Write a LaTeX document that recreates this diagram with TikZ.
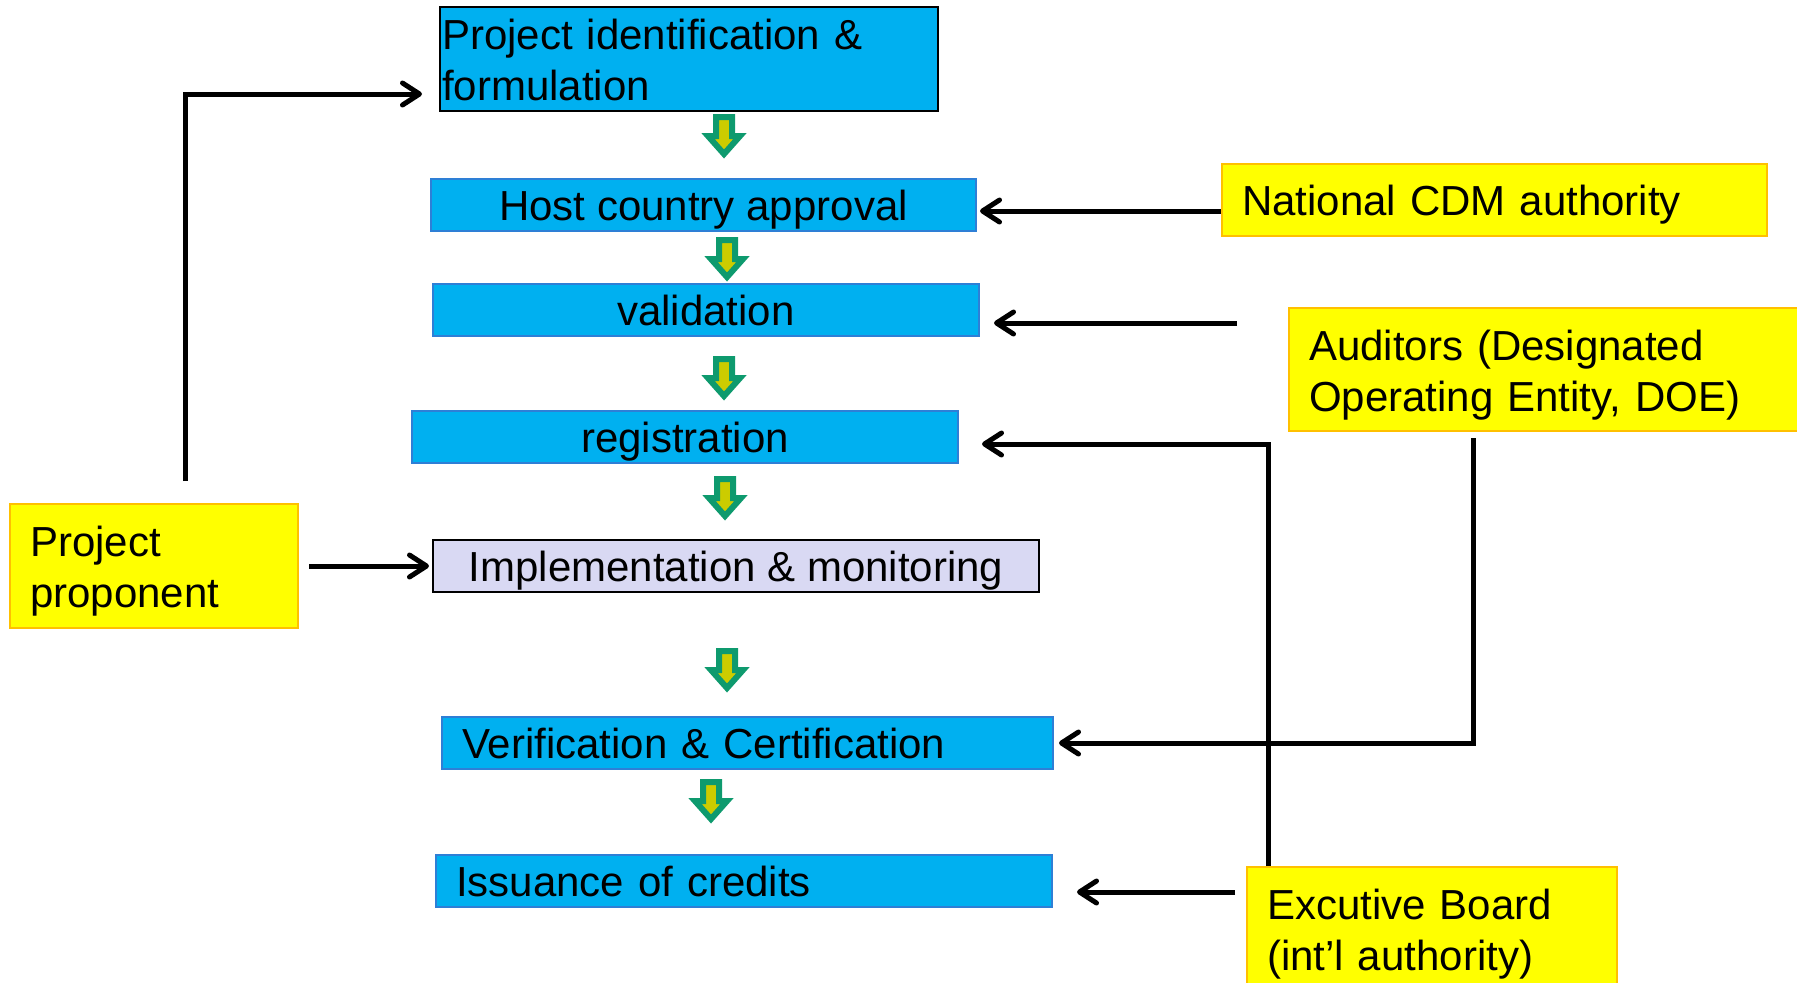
\documentclass[tikz,border=0pt]{standalone}
\usepackage{fontspec}
\setmainfont{Liberation Sans}
\usetikzlibrary{arrows.meta}
\definecolor{stageblue}{HTML}{00B0F0}
\definecolor{stageedge}{HTML}{2E7FD6}
\definecolor{monitorfill}{HTML}{D9D9F3}
\definecolor{actorfill}{HTML}{FFFF00}
\definecolor{actoredge}{HTML}{FFC000}
\definecolor{flowedge}{HTML}{0E9A6E}
\definecolor{flowfill}{HTML}{CCCC00}
\newcommand{\tstrut}{\rule{0pt}{20.5pt}}
\newcommand{\bstrut}{\rule[-4.5pt]{0pt}{4.5pt}}

\begin{document}
\begin{tikzpicture}[x=0.5pt, y=-0.5pt,
    font=\fontsize{21pt}{25.5pt}\selectfont,
    stage/.style={draw=stageedge, fill=stageblue, line width=1pt, anchor=north west,
      inner sep=0pt, minimum height=26pt},
    oneline/.style={text height=17.5pt, text depth=2pt},
    actor/.style={draw=actoredge, fill=actorfill, line width=1pt, anchor=north west,
      inner xsep=10pt, inner ysep=0pt, align=left},
    link/.style={line width=2.5pt, -{Straight Barb[length=8.5pt,width=11pt,round]}},
    flow/.style={draw=flowedge, fill=flowfill, line width=3pt}]
  \useasboundingbox (0,0) rectangle (1797,982);

  \node[stage, draw=black, minimum height=52pt, inner xsep=1pt, text width=247pt, align=left]
    (ident) at (439,6) {\tstrut Project identification \&\\formulation\bstrut};
  \node[stage, oneline, minimum width=272.5pt] (host) at (430,178) {Host country approval};
  \node[stage, oneline, minimum width=273pt] (valid) at (432,283) {validation};
  \node[stage, oneline, minimum width=273pt] (regist) at (411,410) {registration};
  \node[stage, oneline, draw=black, fill=monitorfill, minimum width=303pt]
    (impl) at (432,539) {Implementation \& monitoring};
  \node[stage, oneline, inner xsep=10pt, text width=285.5pt, align=left]
    (verif) at (441,716) {Verification \& Certification};
  \node[stage, oneline, inner xsep=10pt, text width=288pt, align=left]
    (issue) at (435,854) {Issuance of credits};

  \node[actor, oneline, text width=252.5pt, minimum height=36pt]
    (national) at (1221,163) {National CDM authority};
  \node[actor, text width=236pt, minimum height=61.5pt]
    (auditors) at (1288,307) {\tstrut Auditors (Designated\\Operating Entity, DOE)\bstrut};
  \node[actor, text width=124pt, minimum height=62pt]
    (proponent) at (9,503) {\tstrut Project\\proponent\bstrut};
  \node[actor, text width=165pt, minimum height=61.5pt]
    (board) at (1246,866) {\tstrut Excutive Board\\(int’l authority)\bstrut};

  % arrows between the steps
  \foreach \ax/\ay in {724/114, 727/237, 724/356, 725/476, 727/648, 711/779}
    \draw[flow, shift={(\ax,\ay)}] (-8,3) -- (8,3) -- (8,22) -- (16,22) -- (0,40)
      -- (-16,22) -- (-8,22) -- cycle;

  \coordinate (auditin) at (1237,323);

  \draw[link, shorten <=11pt, shorten >=8.5pt] ([xshift=15.5pt]proponent.north) |- ([yshift=-17.5pt]ident.west);
  \draw[link, shorten <=5pt, shorten >=1.5pt] (proponent.east) -- (impl.west);
  \draw[link, shorten >=1.5pt] ([yshift=-5.5pt]national.west) -- ([yshift=-5.5pt]national.west -| host.east);
  \draw[link, shorten >=7pt] (auditin) -- (auditin -| valid.east);
  \draw[link, shorten >=11.5pt] ([xshift=11pt]board.north west) |- ([yshift=-3.5pt]regist.east);
  \draw[link, shorten <=3pt, shorten >=2.5pt] ([xshift=92.5pt]auditors.south west) |- (verif.east);
  \draw[link, shorten <=5.5pt, shorten >=12pt] ([yshift=-5.5pt]issue.east -| board.west) -- ([yshift=-5.5pt]issue.east);
\end{tikzpicture}
\end{document}
